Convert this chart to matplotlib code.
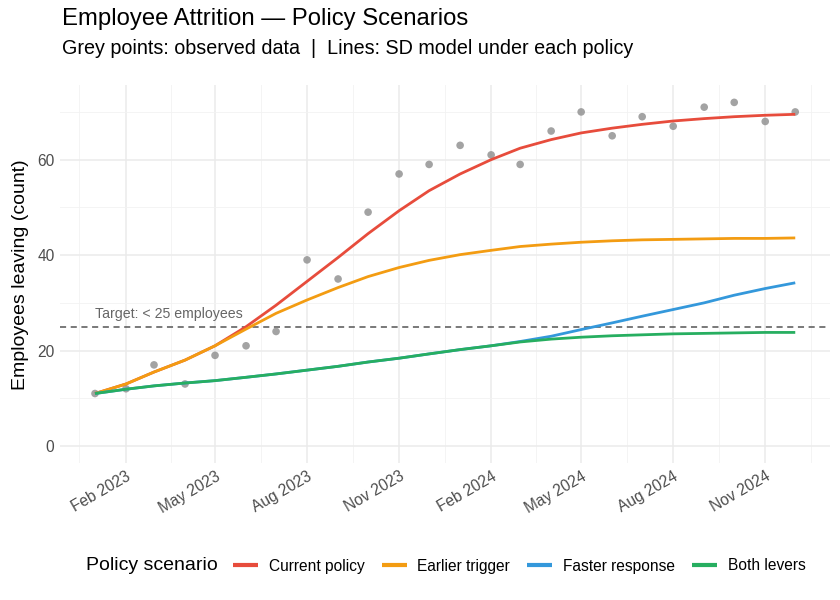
import matplotlib.pyplot as plt
import matplotlib.dates as mdates
import numpy as np
import pandas as pd

plt.rcParams['font.family'] = ['Liberation Sans', 'DejaVu Sans']

# monthly dates, Jan 2023 - Dec 2024
months = pd.date_range("2023-01-01", "2024-12-01", freq="MS")

observed = [11, 12, 17, 13, 19, 21, 24, 39, 35, 49, 57, 59,
            63, 61, 59, 66, 70, 65, 69, 67, 71, 72, 68, 70]

current_policy = [11, 13, 15.5, 18, 21, 25, 29.5, 34.5, 39.5, 44.5, 49.3, 53.5,
                  57, 60, 62.4, 64.2, 65.6, 66.6, 67.4, 68.1, 68.6, 69, 69.3, 69.5]
earlier_trigger = [11, 13, 15.5, 18, 21, 24.5, 27.8, 30.6, 33.2, 35.5, 37.4, 38.9,
                   40.1, 41, 41.8, 42.3, 42.7, 43, 43.2, 43.3, 43.4, 43.5, 43.5, 43.6]
faster_response = [11, 11.9, 12.6, 13.2, 13.7, 14.4, 15.1, 15.9, 16.7, 17.6, 18.4, 19.3,
                   20.2, 21.0, 21.9, 23.0, 24.4, 25.8, 27.2, 28.6, 30.0, 31.6, 33.0, 34.2]
both_levers = [11, 11.9, 12.6, 13.2, 13.7, 14.4, 15.1, 15.9, 16.7, 17.6, 18.4, 19.3,
               20.2, 21.0, 21.8, 22.4, 22.8, 23.1, 23.3, 23.5, 23.6, 23.7, 23.8, 23.8]

scenarios = ["Current policy", "Earlier trigger", "Faster response", "Both levers"]
colors = ["#E74C3C", "#F39C12", "#3498DB", "#27AE60"]
target = 25

fig = plt.figure(figsize=(8.4, 6), dpi=100)
ax = fig.add_axes([0.0714, 0.228, 0.917, 0.630])

# grid like theme_minimal
ax.set_axisbelow(True)
ax.grid(True, which="major", color="#EBEBEB", linewidth=1.1)
ax.grid(True, which="minor", color="#F2F2F2", linewidth=0.6)
for s in ax.spines.values():
    s.set_visible(False)

ax.scatter(months, observed, s=30, color="#8C8C8C", alpha=0.8, zorder=3,
           edgecolors="none")

series = [current_policy, earlier_trigger, faster_response, both_levers]
for name, vals, col in zip(scenarios, series, colors):
    ax.plot(months, vals, color=col, linewidth=2.0, label=name, zorder=4,
            solid_capstyle="butt", solid_joinstyle="round")

ax.axhline(target, color="#555555", linestyle=(0, (4, 3)), linewidth=1.1, zorder=2)
ax.text(months[0], target + 1.2, "Target: < 25 employees", fontsize=10.2,
        color="#666666", ha="left", va="bottom")

span = months[-1] - months[0]
ax.set_xlim(months[0] - span * 0.05, months[-1] + span * 0.05)
ax.set_ylim(-3.6, 75.6)
ax.set_yticks([0, 20, 40, 60])
ax.set_yticks([10, 30, 50, 70], minor=True)

major = pd.to_datetime(["2023-02-01", "2023-05-01", "2023-08-01", "2023-11-01",
                        "2024-02-01", "2024-05-01", "2024-08-01", "2024-11-01"])
minor = pd.to_datetime(["2022-12-16", "2023-03-18", "2023-06-16", "2023-09-16",
                        "2023-12-17", "2024-03-17", "2024-06-16", "2024-09-16",
                        "2024-12-17"])
ax.set_xticks(major)
ax.set_xticks(minor, minor=True)
ax.xaxis.set_major_formatter(mdates.DateFormatter("%b %Y"))
ax.tick_params(which="both", length=0)
ax.tick_params(axis="both", labelsize=11.2, labelcolor="#4D4D4D", pad=4)
for lbl in ax.get_xticklabels():
    lbl.set_rotation(30)
    lbl.set_ha("right")
    lbl.set_rotation_mode("anchor")

ax.set_ylabel("Employees leaving (count)", fontsize=14, color="black", labelpad=6)

fig.text(62 / 840, 1 - 19 / 600, "Employee Attrition \u2014 Policy Scenarios",
         fontsize=17.2, ha="left", va="center")
fig.text(62 / 840, 1 - 49 / 600,
         "Grey points: observed data  |  Lines: SD model under each policy",
         fontsize=14.2, ha="left", va="center")

fig.text(86 / 840, 1 - 566 / 600, "Policy scenario", fontsize=14,
         ha="left", va="center")
leg = fig.legend(loc="center left", handles=ax.get_lines()[:4],
                 bbox_to_anchor=(233 / 840, 1 - 566 / 600), ncol=4, frameon=False,
                 fontsize=11.2, handlelength=1.6, handletextpad=0.7,
                 columnspacing=1.1, borderaxespad=0, borderpad=0)
for h in leg.legend_handles:
    h.set_linewidth(3)

fig.savefig("out.png", dpi=100)
